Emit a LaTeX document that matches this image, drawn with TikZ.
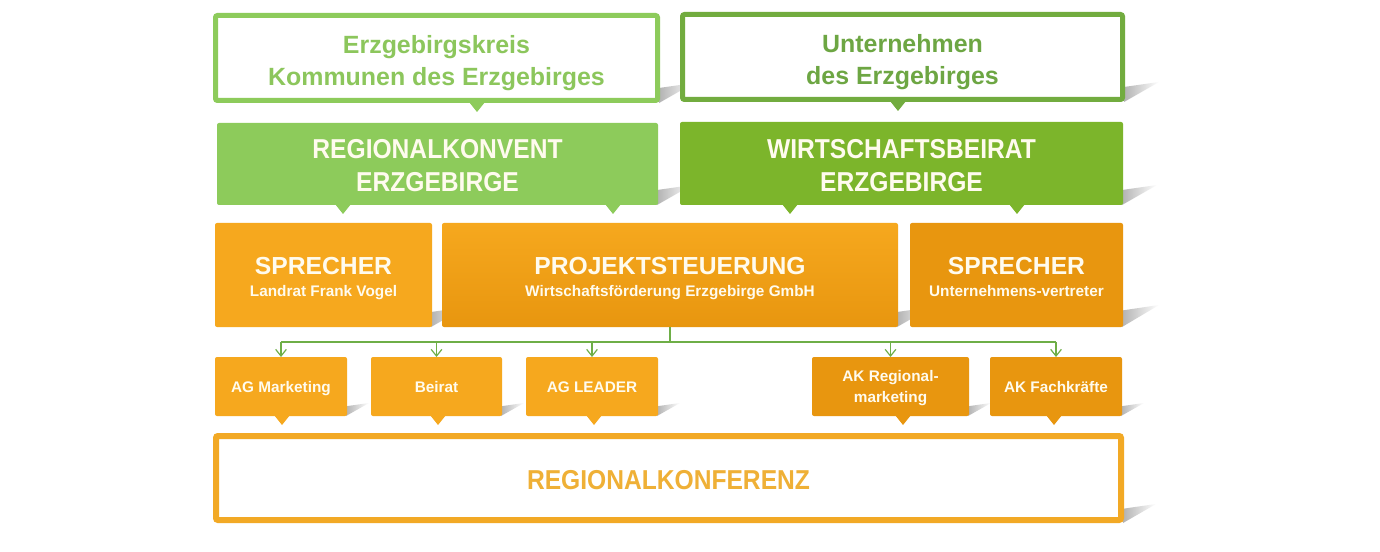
\documentclass[tikz,border=0pt]{standalone}
\usepackage{fontspec}
\setmainfont{Liberation Sans}
\newfontfamily\condf{Liberation Sans}[FakeStretch=0.9]
\usetikzlibrary{arrows.meta,calc}
\definecolor{lgreen}{HTML}{8DCB5B}
\definecolor{lgreentext}{HTML}{8CC65C}
\definecolor{dgreen}{HTML}{72AC3F}
\definecolor{dgreentext}{HTML}{6DA643}
\definecolor{dgreenfill}{HTML}{7CB52B}
\definecolor{orA}{HTML}{F6A81E}
\definecolor{orB}{HTML}{E8960F}
\definecolor{orBorder}{HTML}{F2A925}
\definecolor{orText}{HTML}{EFB036}
\definecolor{connc}{HTML}{6EAE47}
\definecolor{wtext}{HTML}{FFFBEE}
\newcommand\ptr[3]{\fill[#1] (#2-8,#3-1) -- (#2+8,#3-1) -- (#2,#3+9) -- cycle;}
\newcommand\shd[4]{\shade[left color=black!30, right color=white] (#1-1,#2) -- (#1+#3,#2-#4) -- (#1-1,#2-0.75*#4) -- cycle;}
\tikzset{
  sz/.style 2 args={minimum width=#1*0.75pt, minimum height=#2*0.75pt},
  box/.style={inner sep=0pt, outer sep=0pt, rounded corners=1.5pt},
  framed/.style={box, line width=3.75pt, fill=white},
  txt/.style={inner sep=0pt, align=center, text=wtext},
  htext/.style={txt, font=\bfseries\fontsize{18.7}{24}\selectfont},
  capstext/.style={txt, font=\condf\bfseries\fontsize{20.5}{24.75}\selectfont},
  midtext/.style={txt, font=\bfseries\fontsize{11.5}{16.5}\selectfont},
  smalltext/.style={txt, font=\bfseries\fontsize{11.5}{15.5}\selectfont},
  conn/.style={draw=connc, line width=1pt},
  arr/.style={conn, -{Straight Barb[length=5pt,width=8pt,line width=0.9pt]}}
}
\begin{document}
\begin{tikzpicture}[x=0.75pt,y=-0.75pt]
\useasboundingbox (0,0) rectangle (1380,552);
\fill[white] (0,0) rectangle (1380,552);
% shadows
\shd{660}{103}{34}{20}
\shd{1125}{102}{34}{20}
\shd{658}{205}{34}{20}
\shd{1123}{205}{34}{20}
\shd{432}{327}{34}{20}
\shd{898}{327}{34}{20}
\shd{1123}{327}{36}{22}
\shd{347}{416}{22}{13}
\shd{502}{416}{22}{13}
\shd{658}{416}{22}{13}
\shd{969}{416}{22}{13}
\shd{1122}{416}{22}{13}
\shd{1124}{523}{32}{19}
% row 1
\node[framed, draw=lgreen, sz={442}{85}] (H1) at (436.5,58) {};
\node[htext, text=lgreentext] (H1t) at ($(H1.center)+(0,5)$) {Erzgebirgskreis\\Kommunen des Erzgebirges};
\node[framed, draw=dgreen, sz={440}{85}] (H2) at (902.5,57) {};
\node[htext, text=dgreentext] (H2t) at ($(H2.center)+(0,5)$) {Unternehmen\\des Erzgebirges};
\ptr{lgreen}{477}{103}
\ptr{dgreen}{898}{102}
% row 2
\node[box, fill=lgreen, sz={441}{82}] (RK) at (437.5,164) {};
\node[capstext] (RKt) at ($(RK.center)+(0,2)$) {REGIONALKONVENT\\ERZGEBIRGE};
\node[box, fill=dgreenfill, sz={443}{83}] (WB) at (901.5,163.5) {};
\node[capstext] (WBt) at ($(WB.center)+(0,2)$) {WIRTSCHAFTSBEIRAT\\ERZGEBIRGE};
\ptr{lgreen}{343}{205}
\ptr{lgreen}{613}{205}
\ptr{dgreenfill}{790}{205}
\ptr{dgreenfill}{1017}{205}
% row 3
\node[box, fill=orA, sz={217}{104}] (S1) at (323.5,275) {};
\node[midtext] (S1t) at ($(S1.center)+(0,3.5)$) {{\fontsize{18.5}{16.5}\selectfont SPRECHER}\\Landrat Frank Vogel};
\node[box, top color=orA, bottom color=orB, sz={456}{104}] (PS) at (670,275) {};
\node[midtext] (PSt) at ($(PS.center)+(0,3.5)$) {{\fontsize{18.5}{16.5}\selectfont PROJEKTSTEUERUNG}\\Wirtschaftsf\"orderung Erzgebirge GmbH};
\node[box, fill=orB, sz={213}{104}] (S2) at (1016.5,275) {};
\node[midtext] (S2t) at ($(S2.center)+(0,3.5)$) {{\fontsize{18.5}{16.5}\selectfont SPRECHER}\\Unternehmens-vertreter\vphantom{g}};
% row 4
\node[box, fill=orA, sz={132}{59}] (AG1) at (281,386.5) {};
\node[smalltext] at ($(AG1.center)+(0,2)$) {AG Marketing};
\node[box, fill=orA, sz={131}{59}] (AG2) at (436.5,386.5) {};
\node[smalltext] at ($(AG2.center)+(0,2)$) {Beirat\vphantom{g}};
\node[box, fill=orA, sz={132}{59}] (AG3) at (592,386.5) {};
\node[smalltext] at ($(AG3.center)+(0,2)$) {AG LEADER\vphantom{g}};
\node[box, fill=orB, sz={157}{59}] (AK1) at (890.5,386.5) {};
\node[smalltext] at ($(AK1.center)+(0,1.5)$) {AK Regional-\\marketing};
\node[box, fill=orB, sz={132}{59}] (AK2) at (1056,386.5) {};
\node[smalltext] at ($(AK2.center)+(0,2)$) {AK Fachkr\"afte\vphantom{g}};
\ptr{orA}{282}{416}
\ptr{orA}{438}{416}
\ptr{orA}{594}{416}
\ptr{orB}{903}{416}
\ptr{orB}{1054}{416}
% row 5
\node[box, draw=orBorder, line width=4.5pt, fill=white, sz={905}{84}] (RKF) at (668.5,478) {};
\node[txt, font=\condf\bfseries\fontsize{20.5}{24}\selectfont, text=orText] (RKFt) at ($(RKF.center)+(0,2)$) {REGIONALKONFERENZ};
% connectors
\draw[conn] (PS.south) -- ++(0,15) coordinate (bus);
\draw[conn] (bus -| AG1.north) -- (bus -| AK2.north);
\foreach \n in {AG1,AG2,AG3,AK1,AK2}
  \draw[arr] (bus -| \n.north) -- (\n.north);
\end{tikzpicture}
\end{document}
